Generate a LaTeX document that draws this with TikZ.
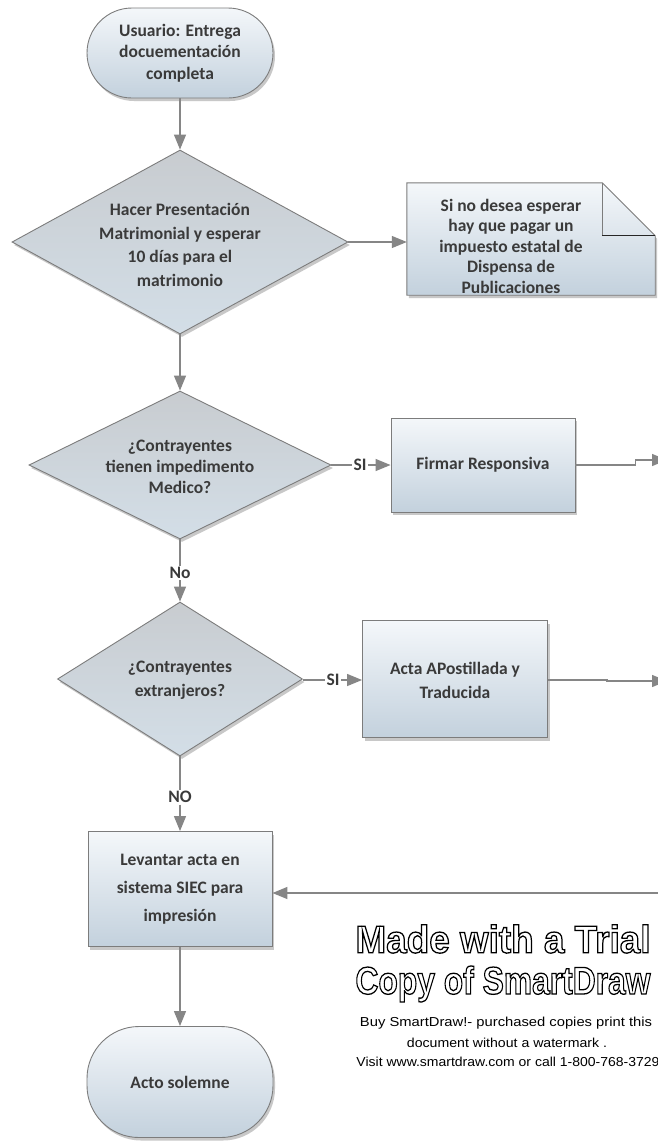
\documentclass[tikz,border=0pt]{standalone}
\usepackage{fontspec}
\setmainfont{Carlito}
\newfontfamily\wmbig{Liberation Sans}
\newfontfamily\wmsmall{Liberation Sans}
\usepackage{graphicx}
\usetikzlibrary{shapes.geometric,shadows,arrows.meta,calc}

\definecolor{linegray}{HTML}{868686}
\definecolor{bordergray}{HTML}{7C7C7C}
\definecolor{ink}{HTML}{3A3A3A}
\definecolor{boxtop}{HTML}{F4F7FA}
\definecolor{boxbot}{HTML}{C3D1DD}
\definecolor{dectop}{HTML}{C8CCD0}
\definecolor{decbot}{HTML}{D3DEE7}

% hollow lettering: white fill with a black stroke (PDF text render mode 2)
\newcommand{\hollowtext}[1]{{\color{white}\special{pdf:literal direct 2 Tr 1.4 w 0 G}#1\special{pdf:literal direct 0 Tr}}}

\tikzset{
  shapebase/.style={draw=bordergray, line width=0.9pt, inner sep=0pt,
    drop shadow={opacity=0.3, shadow xshift=2pt, shadow yshift=-3pt, fill=black!70}},
  boxfill/.style={top color=boxtop, bottom color=boxbot},
  txt/.style={font=\bfseries\fontsize{17.5}{#1}\selectfont, text=ink, align=center, inner sep=0pt},
  txt/.default=22,
  terminal/.style={shapebase, boxfill, rectangle, font=\bfseries\fontsize{17.5}{21.5}\selectfont,
    text=ink, align=center},
  process/.style={shapebase, boxfill, rectangle},
  decision/.style={shapebase, top color=dectop, bottom color=decbot, diamond},
  flow/.style={draw=linegray, line width=1.3pt, -{Triangle[length=15pt,width=12pt]}},
  plain/.style={draw=linegray, line width=1.3pt},
  lbl/.style={font=\bfseries\fontsize{17.5}{19}\selectfont, text=ink, inner sep=1.5pt},
  wmline/.style={inner sep=0pt, text=black},
}

\begin{document}
\begin{tikzpicture}[x=1pt, y=-1pt]
  \fill[white] (0,0) rectangle (658,1144);
  \useasboundingbox (0,0) rectangle (658,1144);

  % start terminal
  \node[terminal, minimum width=186pt, minimum height=90pt, rounded corners=45pt]
    (start) at (180,53) {Usuario: Entrega\\docuementación\\completa};

  % first decision
  \node[decision, minimum width=336pt, minimum height=184pt] (d1) at (180,242) {};
  \node[txt=23.5] (d1t) at (180,245) {Hacer Presentación\\Matrimonial y esperar\\10 días para el\\matrimonio};

  % note with folded corner
  \node[inner sep=0pt, minimum width=248pt, minimum height=112pt] (note) at (531,239) {};
  \draw[shapebase, boxfill] (note.north west) -- ($(note.north east)+(-53,0)$)
    -- ($(note.north east)+(0,53)$) -- (note.south east) -- (note.south west) -- cycle;
  \draw[bordergray, line width=0.9pt] ($(note.north east)+(-53,0)$) -- ($(note.north east)+(-53,53)$);
  \draw[black!85, line width=1.2pt] ($(note.north east)+(-53,53)$) -- ($(note.north east)+(0,53)$);
  \node[txt=20.5] (notet) at (511,246) {Si no desea esperar\\hay que pagar un\\impuesto estatal de\\Dispensa de\\Publicaciones};

  % second decision
  \node[decision, minimum width=302pt, minimum height=148pt] (d2) at (180,465) {};
  \node[txt=21] (d2t) at (180,467) {¿Contrayentes\\tienen impedimento\\Medico?};
  \node[lbl] (si1) at (360,465) {SI};
  \node[process, minimum width=184pt, minimum height=94pt] (firmar) at (483,465) {};
  \node[txt] (firmart) at (firmar.center) {Firmar Responsiva};

  % third decision
  \node[lbl] (no1) at (180,573) {No};
  \node[decision, minimum width=245pt, minimum height=154pt] (d3) at (180,679) {};
  \node[txt=24] (d3t) at (180,680) {¿Contrayentes\\extranjeros?};
  \node[lbl] (si2) at (333,680) {SI};
  \node[process, minimum width=185pt, minimum height=117pt] (acta) at (455,679) {};
  \node[txt=24] (actat) at (455,680) {Acta APostillada y\\Traducida};

  % record and ceremony
  \node[lbl] (no2) at (180,797) {NO};
  \node[process, minimum width=184pt, minimum height=115pt] (lev) at (180,889) {};
  \node[txt=28] (levt) at (180,889) {Levantar acta en\\sistema SIEC para\\impresión};
  \node[terminal, minimum width=186pt, minimum height=111pt, rounded corners=52pt]
    (acto) at (180,1082) {Acto solemne};

  % loose ends at the right margin
  \coordinate (out1) at (667,460);
  \coordinate (out2) at (667,681);
  \coordinate (in3) at (662,893);

  % connectors
  \draw[flow] (start) -- (d1);
  \draw[flow] (d1.east) -- (d1.east -| note.west);
  \draw[flow] (d1) -- (d2);
  \draw[plain] (d2.east) -- (si1.west);
  \draw[flow] (si1.east) -- (firmar.west);
  \draw[flow] (firmar.east) -- ++(60,0) |- (out1);
  \draw[plain] (d2) -- (no1);
  \draw[flow] (no1) -- (d3);
  \draw[plain] (d3.east |- si2) -- (si2.west);
  \draw[flow] (si2.east) -- (si2.east -| acta.west);
  \draw[flow] (acta.east |- si2) -- ++(59,0) |- (out2);
  \draw[plain] (d3) -- (no2);
  \draw[flow] (no2) -- (lev);
  \draw[flow] (in3) -- (in3 -| lev.east);
  \draw[flow] (lev) -- (acto);

  % trial watermark
  \node[wmline] (wm1) at (503,939)
    {\resizebox{295pt}{0.92\height}{\wmbig\bfseries\fontsize{42}{42}\selectfont\hollowtext{Made with a Trial}}};
  \node[wmline] (wm2) at (503,984)
    {\resizebox{295pt}{0.92\height}{\wmbig\bfseries\fontsize{42}{42}\selectfont\hollowtext{Copy of SmartDraw}}};
  \node[wmline] (wm3) at (506,1023)
    {\resizebox{292pt}{\height}{\wmsmall\fontsize{13}{13}\selectfont Buy SmartDraw!- purchased copies print this}};
  \node[wmline] (wm4) at (507,1043)
    {\resizebox{200pt}{\height}{\wmsmall\fontsize{13}{13}\selectfont document without a watermark .}};
  \node[wmline] (wm5) at (508,1062)
    {\resizebox{303pt}{\height}{\wmsmall\fontsize{13}{13}\selectfont Visit www.smartdraw.com or call 1-800-768-3729}};
\end{tikzpicture}
\end{document}
